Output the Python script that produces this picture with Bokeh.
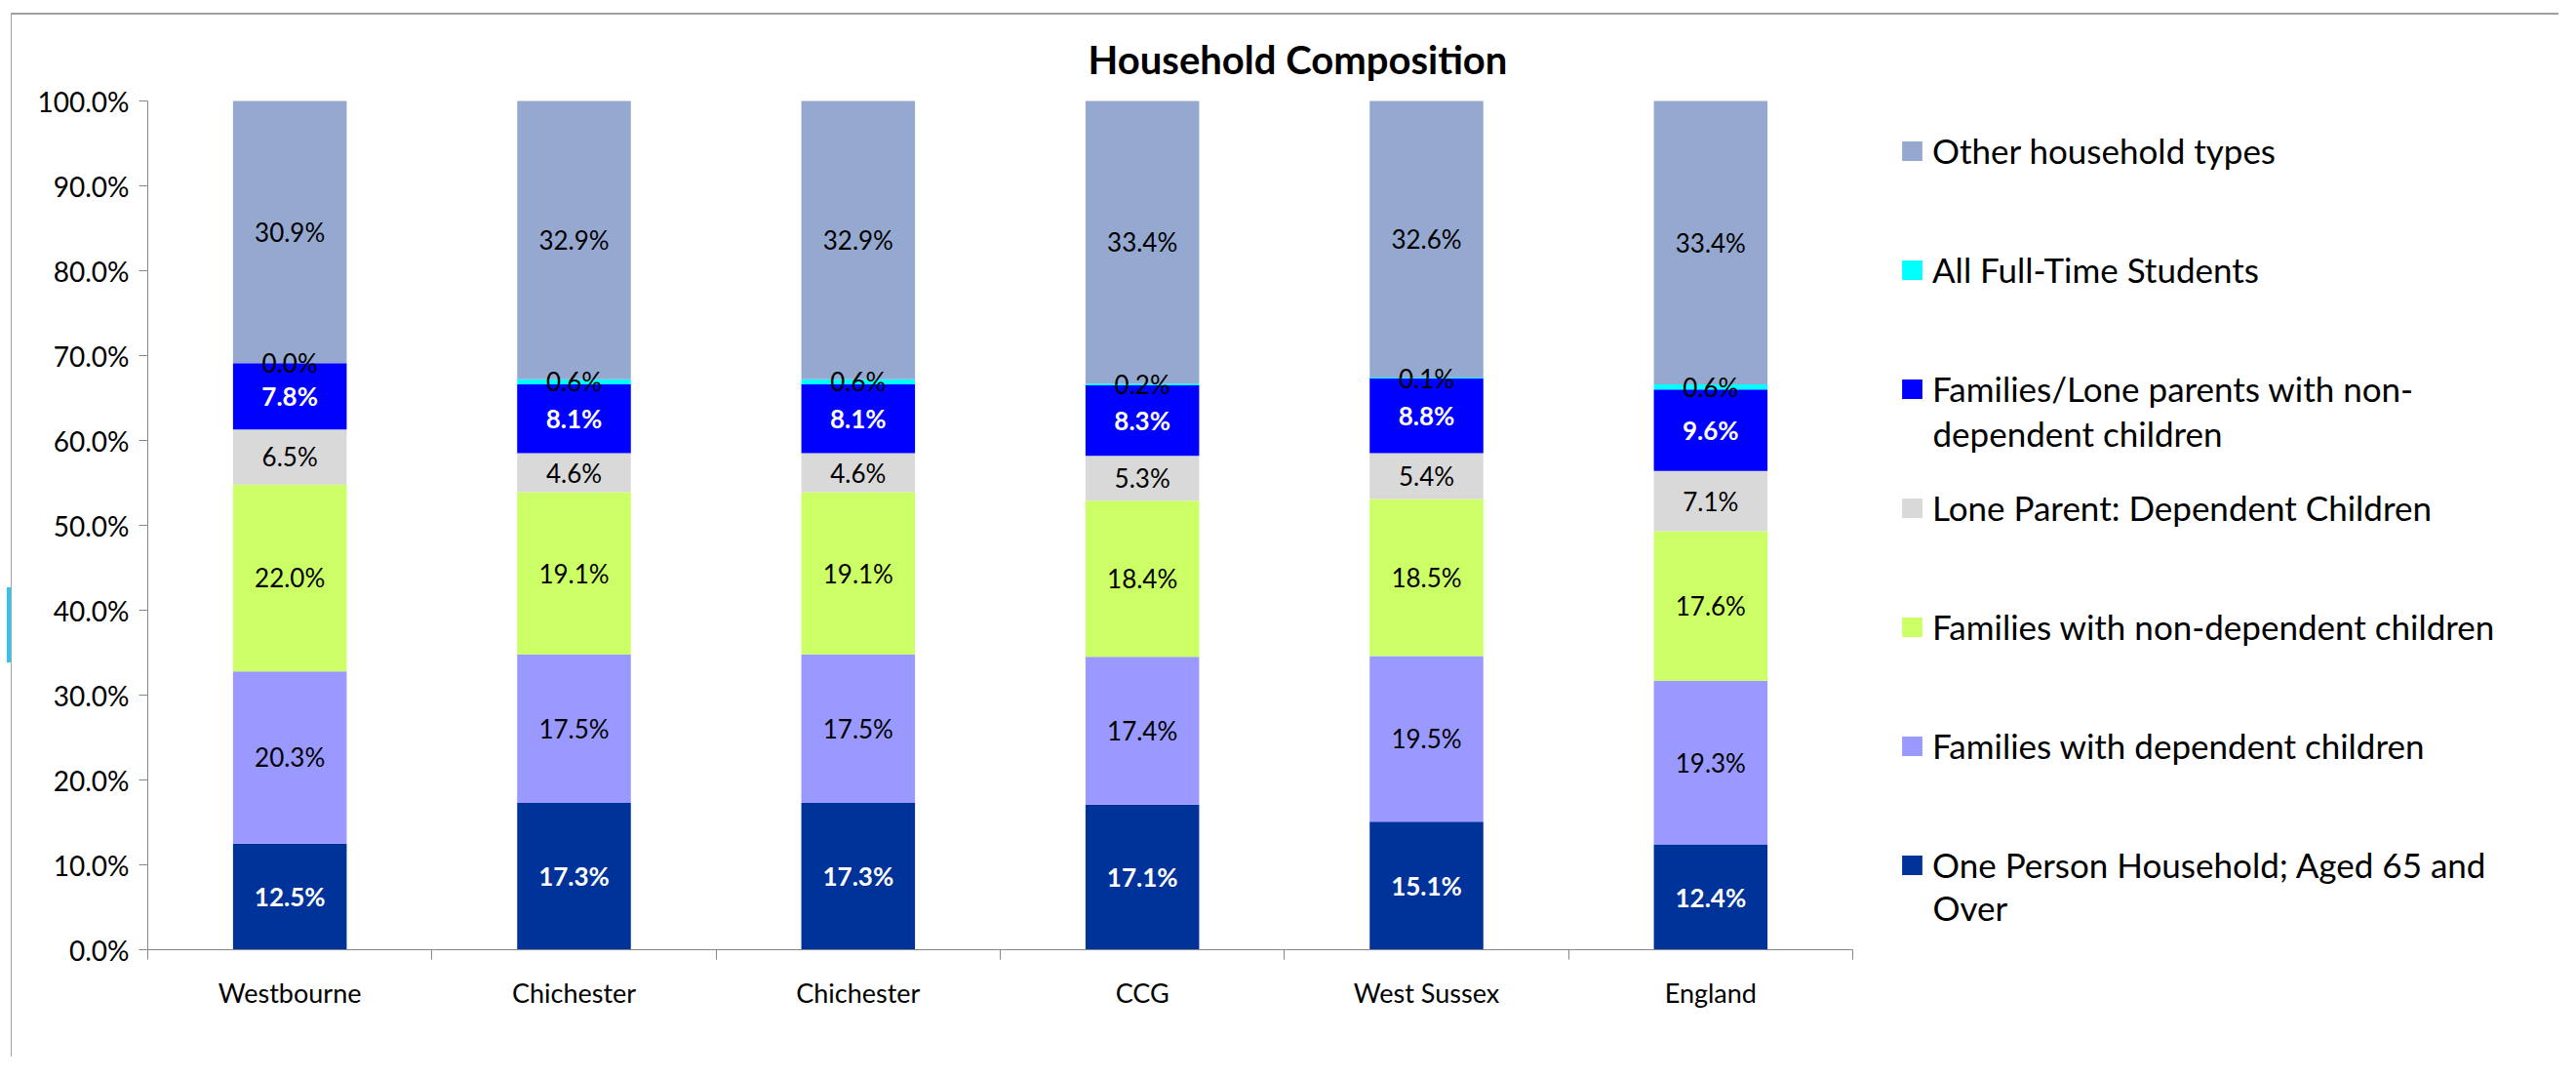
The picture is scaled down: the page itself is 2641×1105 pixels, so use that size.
from bokeh.plotting import figure
from bokeh.models import (Range1d, FixedTicker, NumeralTickFormatter, Legend,
                          LegendItem, Label, ColumnDataSource, InlineStyleSheet)
from bokeh.core.properties import value
from bokeh.embed import file_html
from bokeh.resources import INLINE

# ---------------- data ----------------
categories = ["Westbourne", "Chichester", "Chichester", "CCG", "West Sussex", "England"]

# stacked from bottom to top (percent)
one_person_65 = [12.5, 17.3, 17.3, 17.1, 15.1, 12.4]
families_dependent = [20.3, 17.5, 17.5, 17.4, 19.5, 19.3]
families_non_dependent = [22.0, 19.1, 19.1, 18.4, 18.5, 17.6]
lone_parent_dependent = [6.5, 4.6, 4.6, 5.3, 5.4, 7.1]
families_lone_non_dependent = [7.8, 8.1, 8.1, 8.3, 8.8, 9.6]
full_time_students = [0.0, 0.6, 0.6, 0.2, 0.1, 0.6]
other_household = [30.9, 32.9, 32.9, 33.4, 32.6, 33.4]

series = [
    ("One Person Household; Aged 65 and", "Over", one_person_65, "#003399", "white", "bold"),
    ("Families with dependent children", None, families_dependent, "#9999FF", "black", "normal"),
    ("Families with non-dependent children", None, families_non_dependent, "#CCFF66", "black", "normal"),
    ("Lone Parent: Dependent Children", None, lone_parent_dependent, "#D9D9D9", "black", "normal"),
    ("Families/Lone parents with non-", "dependent children", families_lone_non_dependent, "#0000FF", "white", "bold"),
    ("All Full-Time Students", None, full_time_students, "#00FFFF", "black", "normal"),
    ("Other household types", None, other_household, "#95A9D0", "black", "normal"),
]

y_ticks = [0.0, 0.1, 0.2, 0.3, 0.4, 0.5, 0.6, 0.7, 0.8, 0.9, 1.0]
title_text = "Household Composition"

FONT = "Lato"

# ---------------- layout (page pixels) ----------------
X0, Y0 = 12, 15                 # top-left of figure content
W, H = 2612, 1070
FRAME_L, FRAME_B, TOP100 = 151, 973, 103
MB_LEFT = FRAME_L - X0
MB_BOTTOM = Y0 + H - FRAME_B
CAT_SPAN_PX = 1748.0
n = len(categories)
frame_w = W - MB_LEFT
frame_h = FRAME_B - Y0
x_end = -0.5 + n * frame_w / CAT_SPAN_PX
y_end = frame_h / float(FRAME_B - TOP100)

p = figure(width=W, height=H, output_backend="svg", toolbar_location=None,
           x_range=Range1d(-0.5, x_end), y_range=Range1d(0, y_end),
           min_border_left=MB_LEFT, min_border_top=0,
           min_border_bottom=MB_BOTTOM, min_border_right=0,
           tools="")
p.styles = {"margin-left": "%dpx" % (X0 - 1), "margin-top": "%dpx" % (Y0 - 2),
            "border-left": "1px solid #A6A6A6", "border-top": "2px solid #A0A0A0"}
p.stylesheets = [InlineStyleSheet(css=(
    ":host::after { content: ''; position: absolute; left: -5px; top: 587px;"
    " width: 4px; height: 77px; background: #2EC6EF; }"))]
p.outline_line_color = None
p.grid.visible = False
p.background_fill_color = "white"
p.border_fill_color = "white"

xs = list(range(n))
bottom = [0.0] * n
legend_items = []
label_sources = []
for name, name2, vals, color, tcolor, tstyle in series:
    top = [min(b + v / 100.0, 1.0) for b, v in zip(bottom, vals)]
    src = ColumnDataSource(dict(
        x=xs, bottom=bottom, top=top,
        mid=[(b + t) / 2 for b, t in zip(bottom, top)],
        label=[f"{v:.1f}%" for v in vals]))
    r = p.vbar(x="x", bottom="bottom", top="top", width=0.4, source=src,
               fill_color=color, line_color=None)
    label_sources.append((src, tcolor, tstyle))
    legend_items.append((name, name2, r))
    bottom = top

for src, tcolor, tstyle in label_sources:
    p.text(x="x", y="mid", text="label", source=src, text_align="center",
           text_baseline="middle", text_font=value(FONT), text_font_size="26px",
           text_color=tcolor, text_font_style=tstyle)

# x axis
xa = p.xaxis[0]
xa.ticker = FixedTicker(ticks=xs, minor_ticks=[i - 0.5 for i in range(n + 1)])
xa.major_label_overrides = {i: c for i, c in enumerate(categories)}
xa.bounds = (-0.5, n - 0.5)
xa.axis_line_color = "#868686"
xa.major_tick_out = 0
xa.major_tick_in = 0
xa.minor_tick_out = 10
xa.minor_tick_in = 0
xa.minor_tick_line_color = "#868686"
xa.major_label_standoff = 17
xa.major_label_text_font = FONT
xa.major_label_text_font_size = "27px"
xa.major_label_text_color = "black"

# y axis
ya = p.yaxis[0]
ya.ticker = FixedTicker(ticks=y_ticks, minor_ticks=[])
ya.formatter = NumeralTickFormatter(format="0.0%")
ya.bounds = (0, 1)
ya.axis_line_color = "#868686"
ya.major_tick_line_color = "#868686"
ya.major_tick_out = 9
ya.major_tick_in = 0
ya.major_label_standoff = 10
ya.major_label_text_font = FONT
ya.major_label_text_font_size = "28px"
ya.major_label_text_color = "black"

# title
p.add_layout(Label(x=1330 - FRAME_L, y=FRAME_B - 60, x_units="screen", y_units="screen",
                   text=title_text, text_align="center", text_baseline="middle",
                   text_font=FONT, text_font_size="40px", text_font_style="bold",
                   text_color="black"))

# legend (top to bottom = reverse of stacking)
items = [LegendItem(label=nm, renderers=[r]) for nm, _, r in reversed(legend_items)]
legend = Legend(items=items, location=(1947 - FRAME_L, 66), orientation="vertical",
                glyph_width=26, glyph_height=25, label_height=25,
                label_standoff=8, spacing=80, padding=0, margin=0,
                border_line_color=None, background_fill_alpha=0,
                label_text_font=FONT, label_text_font_size="35px",
                label_text_color="black")
p.add_layout(legend, "center")

# second lines of the two-line legend labels
for txt, yfull in [("dependent children", 443), ("Over", 929)]:
    p.add_layout(Label(x=1981 - FRAME_L, y=FRAME_B - yfull, x_units="screen", y_units="screen",
                       text=txt, text_align="left", text_baseline="middle",
                       text_font=FONT, text_font_size="35px", text_color="black"))

open("out.html", "w").write(file_html(p, INLINE))
